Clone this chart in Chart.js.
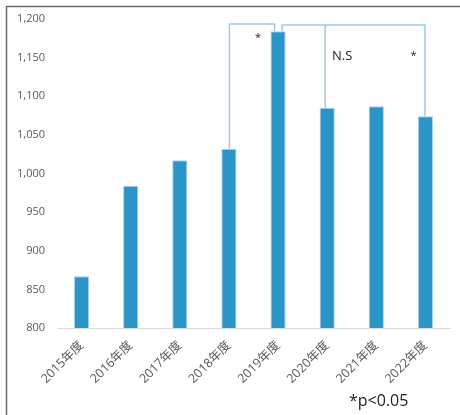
<!DOCTYPE html>
<html>
<head>
<meta charset="utf-8">
<script src="https://cdn.jsdelivr.net/npm/chart.js@4"></script>
<style>
  html, body { margin: 0; padding: 0; background: #ffffff; }
  #wrap { width: 460px; height: 415px; position: relative; }
</style>
</head>
<body>
<div id="wrap"><canvas id="c" width="460" height="415"></canvas></div>
<script>
const categories = ['2015年度', '2016年度', '2017年度', '2018年度', '2019年度', '2020年度', '2021年度', '2022年度'];
const values = [867, 984, 1017, 1032, 1184, 1085, 1087, 1074];
const yMin = 800;
const yMax = 1200;
const yStep = 50;
const footnote = '*p<0.05';
// significance brackets: [from category index, to category index, label]
const brackets = [
  [3, 4, '*'],
  [4, 5, 'N.S'],
  [4, 7, '*']
];

const FONT = "'Open Sans', 'Noto Sans CJK JP', sans-serif";
const BRACKET_COLOR = '#9ccbe6';

const overlay = {
  id: 'overlay',
  afterDraw(chart) {
    const ctx = chart.ctx;
    const x = chart.scales.x, y = chart.scales.y;
    const px = i => x.getPixelForValue(i);
    const top = i => y.getPixelForValue(values[i]);
    ctx.save();
    // frame
    ctx.strokeStyle = '#6b6b6b';
    ctx.lineWidth = 1.5;
    ctx.beginPath();
    ctx.moveTo(6.5, 415);
    ctx.lineTo(6.5, 6.5);
    ctx.lineTo(460, 6.5);
    ctx.stroke();

    // brackets
    ctx.strokeStyle = BRACKET_COLOR;
    ctx.lineWidth = 1.5;
    const hy1 = y.top + 5;
    ctx.beginPath();
    ctx.moveTo(px(3) + 0.5, top(3));
    ctx.lineTo(px(3) + 0.5, hy1);
    ctx.lineTo(px(4) - 3.5, hy1);
    ctx.lineTo(px(4) - 3.5, top(4));
    ctx.stroke();
    const hy2 = y.top + 6;
    ctx.beginPath();
    ctx.moveTo(px(4) + 4, top(4));
    ctx.lineTo(px(4) + 4, hy2);
    ctx.lineTo(px(7) - 0.5, hy2);
    ctx.lineTo(px(7) - 0.5, top(7));
    ctx.moveTo(px(5) - 2, hy2);
    ctx.lineTo(px(5) - 2, top(5));
    ctx.stroke();

    // labels
    ctx.fillStyle = '#222222';
    ctx.textAlign = 'center';
    ctx.textBaseline = 'middle';
    ctx.font = '11px ' + FONT;
    ctx.fillText(brackets[0][2], px(4) - 20, y.top + 19);
    ctx.fillText(brackets[2][2], px(7) - 12, y.top + 37);
    ctx.font = '13px ' + FONT;
    ctx.fillText(brackets[1][2], px(5) + 15, y.top + 37);

    // footnote
    ctx.font = '16px ' + FONT;
    ctx.textAlign = 'left';
    ctx.fillText(footnote, 349, 401);
    ctx.restore();
  }
};

new Chart(document.getElementById('c'), {
  type: 'bar',
  data: {
    labels: categories,
    datasets: [{
      data: values,
      backgroundColor: '#2b95c8',
      borderColor: '#a9d4ec',
      borderWidth: 1,
      barPercentage: 0.62,
      categoryPercentage: 0.5
    }]
  },
  options: {
    responsive: false,
    animation: false,
    devicePixelRatio: 1,
    layout: { padding: { left: 0, right: 10, top: 19, bottom: 0 } },
    plugins: { legend: { display: false }, tooltip: { enabled: false } },
    scales: {
      x: {
        grid: { display: false, drawTicks: false },
        border: { display: true, color: '#d9d9d9', width: 1 },
        ticks: {
          color: '#595959',
          font: { family: FONT, size: 12.5 },
          minRotation: 45,
          maxRotation: 45,
          padding: 10
        },
        afterFit(s) { s.height = 87; }
      },
      y: {
        min: yMin,
        max: yMax,
        grid: { display: false, drawTicks: false },
        border: { display: false },
        ticks: {
          stepSize: yStep,
          color: '#595959',
          font: { family: FONT, size: 11 },
          padding: 12,
          callback: v => v.toLocaleString('en-US')
        },
        afterFit(s) { s.width = 57; }
      }
    }
  },
  plugins: [overlay]
});
</script>
</body>
</html>
